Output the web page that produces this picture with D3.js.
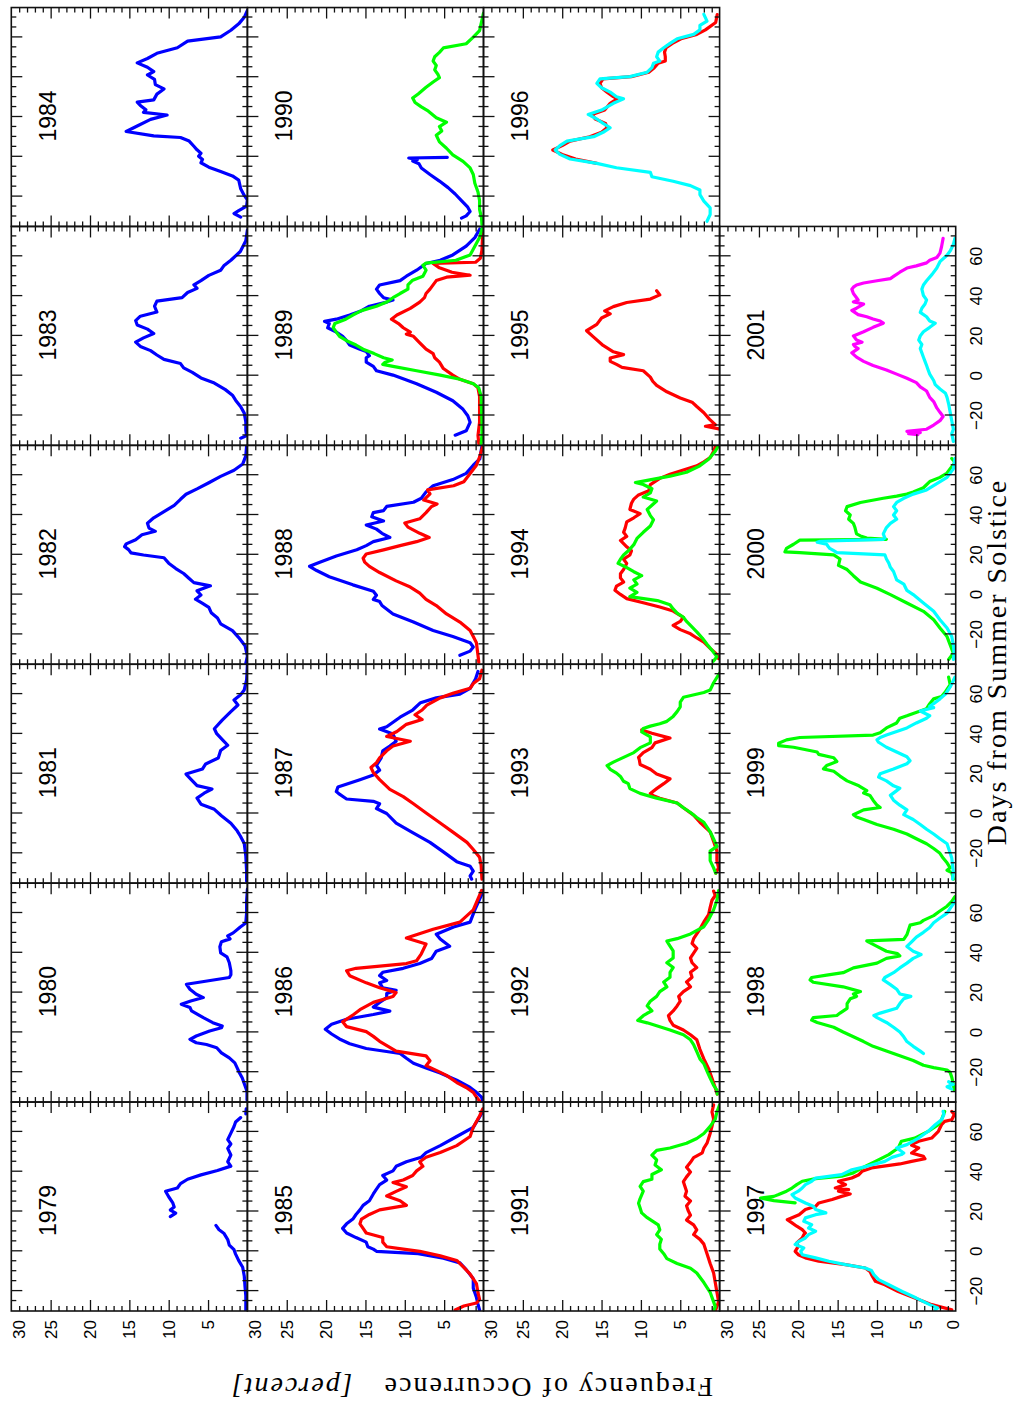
<!DOCTYPE html>
<html>
<head>
<meta charset="utf-8">
<script src="https://cdn.jsdelivr.net/npm/d3@7"></script>
<style>
  html, body { margin: 0; padding: 0; background: #ffffff; }
  svg { display: block; }
</style>
</head>
<body>
<svg id="chart" width="1014" height="1404"></svg>
<script>
// ---------------------------------------------------------------------------
// Seasonal frequency of occurrence, one panel per year, each series a survey.
// Every series is a list of [days from summer solstice, percent].
// ---------------------------------------------------------------------------
const years = d3.range(1979, 2002);
const dayTicks = [-20, 0, 20, 40, 60];
const dayTickLabels = ["\u221220", "0", "20", "40", "60"];
const freqTicks = [30, 25, 20, 15, 10, 5, 0];
const freqTickLabels = ["30", "25", "20", "15", "10", "5", "0"];

const blue1979a = [[71.6,0.15],[69,0.2]];
const blue1979b = [[67.2,0.85],[65,1.5],[62.7,1.7],[59.4,2.1],[56.1,2.5],[53.9,2.1],[51.7,2.5],[48.4,2.1],[45,2.5],[42.8,2.1],[40.6,3.8],[38.4,5.9],[36.2,7.6],[34,8.5],[31.8,8.9],[30.2,10.4],[27.4,10.0],[24.5,9.5],[22.3,9.3],[20.7,9.8],[19.2,9.1],[17.4,9.8]];
const blue1979c = [[13,4.0],[10.8,3.6],[9.1,3.0],[5.9,2.5],[3.1,2.3],[0.8,1.7],[-1.4,1.5],[-4.7,1.1],[-8,0.6],[-12.4,0.4],[-17.9,0.3],[-22.4,0.2],[-26.8,0.2],[-30,0.2]];

const blue1980 = [[72,0],[66,0.1],[60,0.1],[55,0.2],[53,0.9],[50,1.8],[48.5,2.5],[47,2.2],[45.5,3.3],[43,3.5],[40,3.4],[38,2.6],[35,2.3],[31,2.1],[29,2.1],[27.6,2.3],[24.2,7.75],[21.7,7.3],[19.2,6.5],[17.5,5.6],[15.8,7.2],[14.2,8.4],[12.5,7.3],[10.8,7.1],[7.4,5.6],[4.9,4.4],[3.2,3.2],[2.3,3.3],[0.7,4.8],[-1.8,6.5],[-3.5,7.3],[-5.2,6.5],[-6.1,5.2],[-7.7,3.9],[-10.3,3.3],[-12.8,2.3],[-15.3,1.6],[-17.8,1.3],[-20.4,1.0],[-22.9,0.65],[-26.3,0.35],[-29.6,0.05],[-34,0.05]];

const blue1981 = [[74.7,0],[67.1,0.1],[62.1,0.4],[59.5,0.9],[57,1.7],[54.5,1.2],[51.2,2.1],[46.9,3.2],[42.6,4.2],[40.1,3.9],[36.8,3.1],[34.3,2.5],[31.7,3.4],[27.9,3.7],[24.9,5.3],[22.4,5.7],[19.8,7.8],[17.3,7.2],[14,6.4],[12.3,4.5],[10.2,5.5],[7.7,6.4],[4.7,5.9],[2.1,4.2],[-1.1,3.3],[-4.9,2.1],[-8.7,1.3],[-11.3,0.9],[-15.1,0.4],[-21.4,0.2],[-29,0.1],[-34,0.1]];

const blue1982 = [[74.9,0.1],[69.7,0.2],[65.6,0.6],[62.5,1.7],[59.4,3.4],[56.2,4.9],[53.1,6.4],[50.4,7.8],[47.9,8.5],[44.8,9.3],[41.7,10.6],[38.6,11.9],[35.9,12.7],[33.4,12.5],[31.8,11.7],[30.1,13.4],[27.6,14.2],[25.5,15.4],[24.1,15.6],[22.6,15.1],[21,14.8],[19.9,13.2],[18.5,10.6],[15.8,10.0],[13.1,9.1],[10.6,8.1],[8.1,7.4],[6,6.8],[4.4,4.7],[1.9,6.4],[-0.2,5.9],[-2.3,6.6],[-4.4,5.7],[-6.4,4.9],[-9.1,4.6],[-11.8,3.8],[-14.7,3.4],[-18.1,1.9],[-21.6,1.1],[-25.7,0.3],[-30.9,0],[-34.5,0.2]];

const blue1983 = [[73.2,0],[67.8,0.2],[62.4,0.9],[58,2.1],[55.2,3.0],[53,3.4],[50.4,4.9],[47.8,5.9],[45.7,6.8],[43.9,6.4],[41.8,7.6],[39.2,8.3],[37.5,11.5],[34.9,11.8],[32,11.5],[29.9,13.6],[27.7,14.2],[25.5,14.0],[23.4,12.7],[21.2,11.9],[19,13.2],[16.9,14.2],[14.7,13.6],[12.6,12.3],[10.4,11.5],[8.2,10.6],[6.1,8.5],[3.9,8.1],[1.7,7.0],[-1.1,5.9],[-3.7,4.2],[-7,2.8],[-9.8,1.9],[-12.3,1.5],[-15.6,0.85],[-18.8,0.4],[-23.2,0.2],[-27.5,0.2],[-30.1,0.1],[-31.4,0.85]];

const blue1984 = [[73.5,0],[70.1,0.4],[66.8,1.1],[63.6,2.1],[60.3,3.4],[58.1,7.6],[54.8,8.9],[52,11.5],[49.4,12.7],[47.2,14.0],[45,12.7],[42.8,11.9],[41.1,12.7],[38.9,11.8],[36.3,11.7],[34.1,10.6],[31.5,11.5],[28.6,11.9],[27.5,14.0],[25.8,13.6],[23.6,12.9],[22.3,13.2],[21,10.2],[18.8,12.3],[15.5,14.0],[12.7,15.4],[10.5,11.9],[9.7,8.5],[7.9,7.4],[5.3,6.8],[3.5,6.4],[1.8,5.9],[0.3,6.2],[-1.3,5.7],[-3,5.9],[-5.2,4.9],[-7.4,3.4],[-9.6,1.9],[-11.7,1.1],[-16.1,0.85],[-19.4,0.4],[-21.6,0],[-24.8,0.1],[-27,1.1],[-28.5,1.7],[-30.3,0.85]];

const blue1985 = [[71.5,0],[69.2,0.25],[62.3,1.3],[57.7,3.4],[53.1,5.5],[49.6,7.3],[47.3,7.9],[45,9.8],[42.7,11.1],[40.4,11.5],[38.1,12.8],[35.8,12.3],[33.5,13.2],[31.2,13.6],[28.8,14.0],[25.4,14.5],[23.1,15.3],[20.8,15.7],[18.5,16.2],[16.2,16.6],[13.8,17.4],[11.5,17.9],[9.2,17.4],[6.9,16.2],[4.6,14.9],[2.3,14.7],[1.1,14.0],[0,13.6],[-1.2,8.3],[-3.5,5.1],[-5.8,3.0],[-9.2,2.2],[-13.8,1.3],[-18.5,1.3],[-23.1,0.9],[-26.5,0.7],[-29.5,0.5]];
const red1985 = [[71.5,0.1],[68,0.5],[62.3,1.3],[57.7,1.7],[53.1,3.4],[49.6,5.5],[47.3,7.3],[45,8.1],[42.7,7.7],[40.4,8.5],[38.1,9.0],[35.8,10.2],[34.6,11.5],[32.4,9.8],[30.1,11.1],[27.8,12.3],[25.4,10.6],[23.1,9.8],[20.8,13.2],[18.5,14.5],[16.2,15.5],[13.8,15.7],[11.5,15.3],[9.2,14.9],[6.9,12.8],[4.6,12.8],[2.3,12.3],[1.1,10.2],[0,8.1],[-2.3,5.5],[-4.6,3.4],[-8.1,2.5],[-11.5,1.7],[-16.2,0.9],[-20.8,0.7],[-24.2,0.5],[-26,0.9],[-27.5,2.5],[-29.5,3.6]];

const blue1986 = [[71.3,0],[61.6,1.1],[55.4,1.7],[53,3.8],[49.3,6.0],[46.9,5.5],[43.3,4.3],[40.8,6.0],[37.1,6.6],[34.6,8.1],[32.2,10.2],[30.2,12.8],[28.5,13.2],[26.1,12.3],[24.9,13.2],[22.4,12.8],[21.2,11.1],[19.5,12.3],[17.5,12.3],[15.1,13.2],[12.7,14.0],[10.7,11.9],[9,14.0],[6.6,17.4],[4.1,19.3],[1.6,20.1],[-0.8,19.3],[-3.3,18.3],[-5.7,17.0],[-8.1,14.9],[-10.6,10.6],[-13,9.8],[-15.5,8.9],[-17.9,7.3],[-20.4,5.5],[-24,3.4],[-27.7,1.7],[-30.1,0.9],[-32.5,0.25],[-34.5,0.1]];
const red1986 = [[71.3,0.25],[61.6,1.3],[55.4,3.0],[51.8,6.4],[47.4,9.8],[44.4,7.3],[39.5,7.9],[36,8.5],[34.6,9.8],[32.2,16.2],[31,17.4],[28.5,17.0],[24.9,14.9],[22.4,13.2],[20,11.1],[18,11.5],[15.1,14.0],[11.4,15.7],[9,16.5],[5.3,17.9],[2.9,17.4],[0.4,14.9],[-2,14.0],[-4.5,13.2],[-9.4,11.1],[-11.8,7.3],[-14.2,6.8],[-16.7,7.3],[-19.1,6.0],[-21.6,4.7],[-25.2,3.4],[-27.7,2.2],[-30.1,1.3],[-32.5,0.9],[-34.5,0.5]];

const blue1987 = [[71.4,0.7],[67.7,1.0],[62.9,1.7],[60,3.0],[58.1,6.0],[55.7,8.0],[52,9.0],[48.4,10.6],[43.6,12.3],[42.4,13.2],[39.9,11.5],[36.3,11.1],[33.9,11.9],[31.5,12.8],[27.9,13.0],[24.2,13.6],[21.8,13.2],[19.4,14.0],[17,15.7],[13.3,18.5],[11,18.7],[9.7,18.3],[7.3,17.4],[6.1,14.0],[4.9,13.2],[2.5,13.6],[0,12.3],[-4.8,11.1],[-9.6,9.0],[-14.5,6.8],[-19.3,5.1],[-24.2,3.4],[-26.5,1.7],[-29,1.3],[-31.4,1.7],[-33,1.5]];
const red1987 = [[72,0.2],[67.7,0.5],[65.3,1.3],[62.9,1.7],[60.5,3.8],[58.1,5.5],[54.5,7.2],[52,7.8],[49.6,8.7],[47.2,7.8],[44.8,9.8],[42.4,10.6],[41.2,11.0],[38.7,12.3],[36.3,9.3],[33.9,11.5],[31.5,12.3],[27.9,13.2],[25.5,13.6],[23.1,14.3],[20.6,14.0],[17,13.2],[12.1,11.9],[8.5,10.2],[4.9,8.9],[0,7.2],[-4.8,5.5],[-9.6,3.8],[-14.5,2.1],[-18.1,1.3],[-22,0.5],[-26,0.3],[-33,0.2]];

const blue1988 = [[74.5,0.2],[68.2,0.47],[65,1.3],[60.9,2.2],[57.8,3.9],[54.7,6.4],[51.6,7.3],[48.4,7.9],[46.4,8.9],[44.3,12.3],[42.2,12.7],[41.2,14.0],[39.1,14.2],[37,12.7],[35,14.9],[32.9,13.6],[30.8,12.9],[28.7,11.9],[26.6,14.0],[24.6,14.9],[22.5,16.1],[19.4,18.7],[16.3,20.8],[14.2,22.1],[12.1,21.2],[9,19.6],[4.9,16.6],[1.7,14.0],[-0.3,13.6],[-2.4,14.0],[-3.5,13.2],[-5.5,12.9],[-9.7,11.5],[-13.8,8.9],[-18,6.4],[-21.1,3.9],[-24.2,1.7],[-26.3,1.3],[-28.4,1.7],[-30.5,3.0]];
const red1988 = [[74.5,0.1],[69.1,0.5],[65,0.9],[60.9,1.7],[56.7,2.5],[54.7,3.8],[52.6,7.1],[50.6,6.8],[47.5,7.6],[45.5,5.9],[44.3,6.6],[41.2,7.3],[38.1,8.1],[36,10.0],[33.9,9.6],[30.8,8.1],[28.7,6.9],[26.6,8.5],[24.6,10.6],[22.5,12.7],[20.4,14.9],[18.3,15.3],[16.3,15.1],[14.2,14.5],[11.1,13.2],[6.9,11.1],[3.8,9.3],[0.7,8.1],[-2.4,7.3],[-5.5,6.0],[-9.7,4.7],[-13.8,3.0],[-18,1.7],[-21.1,1.3],[-24.2,0.9],[-30.5,0.7],[-34,0.6]];

const blue1989 = [[73.7,0.47],[69.4,1.1],[65.1,2.2],[60.7,3.9],[58,5.5],[56.4,7.3],[53,8.5],[50,9.8],[47.8,10.6],[45.6,13.2],[43.5,13.6],[41.3,13.2],[39.2,12.7],[38,11.5],[37,12.3],[34.9,14.5],[32.7,15.5],[30.5,17.0],[28.4,18.7],[27.3,20.2],[26.2,19.6],[24.1,19.8],[21.9,18.7],[19.8,17.9],[17.6,17.4],[15.4,17.0],[13.3,15.7],[12.2,14.9],[10.1,14.5],[9,14.9],[6.8,14.9],[4.7,14.0],[2.5,13.6],[0.3,11.5],[-4,8.5],[-8.3,6.0],[-12.6,3.9],[-16.9,2.6],[-20.1,2.0],[-23.4,1.7],[-27.7,2.2],[-29.9,3.6]];
const red1989 = [[72,0.1],[63,0.2],[59,0.4],[57,1.0],[56.4,6.4],[54.2,5.6],[52,4.0],[50.5,1.7],[49.5,4.7],[47.8,6.0],[43.5,6.8],[41.3,7.3],[39.2,7.5],[37,8.1],[33.8,9.3],[30.5,11.0],[28.4,11.7],[26.2,10.8],[24.1,10.2],[21.9,9.3],[20.9,9.8],[19.8,8.9],[16.5,8.1],[13.3,7.3],[11.1,6.4],[9,6.2],[6.8,5.6],[3.6,5.1],[0.3,3.9],[-1.8,3.0],[-4,1.3],[-6.1,0.7],[-10.4,0.5],[-16.9,0.5],[-23.4,0.5],[-30,0.7],[-34,0.6]];
const green1989 = [[75,0.1],[69.4,0.5],[65.1,1.1],[60.7,1.7],[58,3.5],[56.6,7.3],[55.5,7.7],[53,7.3],[50,7.7],[48,9.0],[45.6,9.6],[43.5,9.6],[41.3,10.6],[39.2,11.5],[37,12.3],[34.9,13.6],[32.7,15.5],[30.5,16.6],[28.4,17.5],[26.2,18.9],[24.1,19.1],[21.9,18.7],[19.8,18.3],[17.6,17.4],[15.4,16.2],[13.3,15.3],[11.1,13.9],[9,12.7],[7.9,11.6],[6.8,12.5],[5.7,12.8],[4.7,11.5],[2.5,8.5],[0.3,5.5],[-1.8,3.0],[-4,1.3],[-6.1,0.6],[-10.4,0.3],[-16.9,0.25],[-23.4,0.2],[-30,0.2],[-34,0.3]];

const blue1990 = [[-0.3,4.6],[-0.6,9.5],[-1.4,8.4],[-2.1,9.0],[-3.5,8.2],[-5.6,7.9],[-8.9,6.8],[-12.2,5.6],[-15.5,4.5],[-18.7,3.6],[-22,2.8],[-25.3,2.0],[-27.5,1.7],[-29.7,2.2],[-30.8,2.8]];
const green1990 = [[72.2,0],[67.8,0.25],[63.4,0.5],[60.1,1.3],[56.8,2.2],[54.7,5.1],[52.5,5.6],[50.3,6.2],[48.1,6.4],[45.9,6.0],[43.7,6.2],[41.5,5.8],[39.8,5.6],[37.6,6.4],[34.9,7.3],[31.6,8.3],[29.5,9.0],[27.3,8.7],[25.1,7.9],[22.9,7.0],[19.6,6.0],[17.4,4.7],[15.2,5.6],[13,5.3],[10.8,6.0],[7.5,5.6],[4.3,4.7],[1,3.9],[-2.3,2.6],[-5.6,1.7],[-8.9,1.3],[-13.3,1.1],[-17.7,0.7],[-22,0.5],[-26.4,0.5],[-30.8,0.25],[-34,0.2]];

const red1991 = [[73.6,0.76],[70,0.97],[66.4,0.76],[62.8,0.97],[59.2,1.2],[54.3,1.6],[51.9,2.0],[49.5,2.2],[47.1,3.3],[44.7,3.7],[42.2,4.2],[39.8,3.7],[37.4,4.2],[35,4.6],[32.6,4.4],[30.2,4.2],[27.7,4.4],[25.3,3.7],[22.9,4.2],[20.5,4.0],[18.1,3.7],[15.7,4.2],[13.3,3.3],[10.8,2.9],[8.4,3.3],[6,2.5],[3.6,2.0],[1.2,1.8],[-1.2,1.6],[-6.1,1.2],[-10.9,0.76],[-15.7,0.55],[-20.6,0.34],[-25.4,0.13],[-30,0.55]];
const green1991 = [[73.6,0],[70,0.34],[66.4,0.55],[62.8,1.2],[59.2,2.0],[56.7,2.9],[54.3,4.2],[51.9,6.3],[50.7,8.0],[48.3,8.6],[45.9,8.0],[43.4,8.2],[41,7.4],[38.6,8.6],[36.2,8.6],[35,9.7],[32.6,10.1],[30.2,9.7],[26.5,10.1],[24.1,10.3],[21.7,10.1],[19.3,9.9],[16.9,9.2],[13.3,7.8],[10.8,7.6],[8.4,8.0],[6,7.4],[3.6,7.6],[1.2,7.6],[-1.2,7.1],[-3.7,6.7],[-6.1,5.4],[-8.5,3.7],[-10.9,2.9],[-15.7,2.0],[-20.6,1.2],[-25.4,0.76],[-27.8,0.55],[-30,0.76]];

const red1992 = [[71,0.76],[68.8,0.55],[66.4,0.97],[62.8,1.2],[59.2,1.4],[55.5,2.0],[51.9,2.5],[47.1,3.3],[44.7,3.5],[42.2,2.9],[39.8,3.3],[37.4,3.7],[35,3.5],[32.6,2.9],[30.2,3.7],[27.7,3.5],[25.3,4.2],[22.9,3.7],[20.5,4.6],[18.1,5.2],[15.7,5.0],[13.3,5.4],[10.8,5.9],[8.4,6.5],[6,6.3],[3.6,5.9],[1.2,4.6],[-1.2,3.7],[-3.7,2.9],[-8.5,2.5],[-13.3,2.0],[-18.2,1.4],[-23,0.97],[-27.8,0.55],[-31,0.3]];
const green1992 = [[71.2,0.13],[66.4,0.34],[61.6,0.76],[56.7,1.4],[53.1,2.0],[49.5,3.7],[47.1,5.4],[45.9,6.7],[43.4,6.3],[41,5.9],[37.4,5.9],[35,6.7],[32.6,5.9],[30.2,6.3],[27.7,6.3],[25.3,7.1],[22.9,6.7],[20.5,7.6],[18.1,8.0],[15.7,8.8],[13.3,9.2],[10.8,8.6],[9.6,9.2],[8.4,9.7],[6,10.4],[4.8,9.2],[1.2,6.3],[-1.2,4.6],[-3.7,3.7],[-6.1,3.3],[-9.7,2.9],[-13.3,2.5],[-15.7,2.0],[-19.4,1.6],[-23,1.2],[-26.6,0.76],[-29,0.34],[-31,0.3]];

const red1993 = [[42,9.9],[40.3,8.6],[37.9,6.3],[35.5,8.2],[33.1,8.6],[30.6,9.7],[28.2,10.3],[27,10.2],[24.6,10.1],[22.2,8.8],[19.8,8.0],[17.4,6.3],[15,7.1],[12.5,8.0],[10.1,8.8],[8.9,8.4],[7.7,7.6],[5.3,5.4],[2.9,4.6],[-0.8,3.3],[-4.4,2.5],[-9.2,1.2],[-14,0.76],[-18.9,0.34],[-23.7,0.34],[-27.3,0.13],[-30,0.5]];
const green1993 = [[70.5,0],[65.7,0.76],[62,1.2],[60.8,2.0],[58.4,4.6],[56,5.0],[53.6,5.0],[51.2,5.4],[48.8,5.9],[46.3,6.7],[45.1,7.6],[43.9,8.8],[42.7,9.7],[41,9.9],[38.5,8.8],[35.5,8.8],[33.1,10.1],[30.6,10.9],[28.2,12.2],[25.8,13.5],[24.1,14.3],[22.2,13.9],[20.3,13.1],[18.6,12.6],[16.2,12.2],[15,11.6],[12.5,11.4],[10.1,10.1],[7.7,8.0],[5.3,5.4],[2.9,4.6],[0.5,3.7],[-2,2.9],[-4.4,2.0],[-6.8,1.6],[-9.2,1.2],[-12.8,0.76],[-16.5,0.34],[-18.9,1.2],[-23.7,1.2],[-27.3,0.76],[-30,0.5]];

const red1994 = [[75,0.5],[72,0.76],[68.8,1.2],[66.75,2.0],[64.7,2.9],[62.6,4.6],[60.5,6.3],[58.4,7.6],[55.3,8.8],[52.2,9.0],[50.1,10.3],[48,10.9],[45.9,11.2],[42.8,11.4],[40.7,10.1],[38.6,10.9],[36.5,11.8],[33.4,12.0],[31.3,12.2],[29.25,11.8],[27.2,12.6],[24,11.8],[22,11.2],[19.9,11.4],[17.8,12.2],[15.7,11.8],[12.6,12.2],[10.5,12.6],[8.4,12.6],[6.3,12.2],[4.25,13.1],[2.2,13.3],[0.1,12.6],[-2,11.8],[-4.1,9.7],[-6.2,7.6],[-8.25,5.9],[-11.4,4.6],[-13.5,5.0],[-15.5,5.9],[-17.6,5.0],[-19.7,3.7],[-21.8,2.9],[-23.9,2.0],[-27,1.2],[-30.1,0.34],[-32.2,0.13]];
const green1994 = [[75,0.13],[72,0.55],[68,1.4],[64.7,2.5],[61.5,4.2],[59.5,6.3],[57.4,9.2],[56.3,10.7],[55.3,9.7],[53.2,8.6],[51.1,8.8],[49,9.7],[47,8.0],[44.9,8.6],[42.8,9.2],[39.7,8.8],[37.6,8.4],[34.5,8.8],[31.3,9.7],[28.2,10.5],[25.1,10.9],[22,11.6],[19.9,12.2],[17.8,12.6],[15.7,12.9],[13.6,11.8],[11.5,10.9],[9.5,9.9],[7.4,10.9],[5.3,10.5],[3.2,11.4],[1.1,10.5],[-1,11.4],[-3,7.9],[-5.1,6.3],[-7.2,5.9],[-9.3,5.4],[-11.4,4.6],[-13.5,4.2],[-15.5,3.7],[-18.7,2.9],[-21.8,2.2],[-24.9,1.6],[-28,0.97],[-31.2,0.34],[-33.5,0.8]];

const red1995 = [[42.7,8.0],[40.6,7.6],[38.5,8.8],[36.8,11.8],[34.7,13.5],[32.6,14.6],[31.1,13.9],[29,15.0],[25.8,15.6],[22.6,16.9],[19.4,16.0],[15.2,14.8],[12,13.5],[10.6,12.2],[8.9,13.9],[7.2,13.9],[5.7,13.1],[4.2,12.4],[2.5,9.7],[-0.7,8.8],[-2.8,8.5],[-4.9,8.0],[-8.1,6.7],[-11.2,5.0],[-13.3,3.5],[-15.5,2.9],[-18.6,2.0],[-21.8,1.3],[-24.6,0.55],[-25.4,1.8],[-26.7,0.1]];

const red1996 = [[71.5,0.3],[67.5,0.5],[63.8,1.8],[61.5,2.9],[59.3,4.9],[57,6.0],[54.8,6.8],[52.6,7.0],[50.3,6.9],[48.1,6.9],[47,7.8],[44.8,8.3],[42.5,9.0],[40.3,11.2],[39.2,14.8],[36.9,15.2],[34.7,15.0],[32.5,14.3],[30.2,13.5],[29.1,13.0],[26.9,13.9],[23.5,14.6],[21.3,16.2],[19,15.8],[16.8,14.5],[14.6,14.3],[12.3,15.0],[10.1,16.5],[7.9,19.0],[5.6,20.0],[3.4,21.2],[1.2,20.0],[-1.1,18.3],[-3.3,15.6]];
const cyan1996 = [[71.6,2.0],[68.2,1.6],[66,2.5],[63.8,2.5],[61.5,3.3],[59.3,5.4],[57,6.3],[54.8,7.1],[52.6,7.8],[50.3,8.0],[48.1,7.6],[47,8.4],[44.8,8.6],[42.5,9.2],[40.3,11.4],[39.2,15.2],[36.9,15.6],[34.7,15.0],[32.5,13.9],[30.2,13.1],[29.1,12.2],[26.9,13.5],[23.5,15.0],[21.3,16.7],[19,15.6],[16.8,14.8],[14.6,13.9],[12.3,14.8],[10.1,16.0],[7.9,19.4],[5.6,20.3],[3.4,20.9],[1.2,20.3],[-1.1,19.0],[-3.3,15.6],[-5.5,13.1],[-7.8,8.8],[-10,8.6],[-12.3,5.9],[-14.5,3.7],[-16.7,2.5],[-19,2.5],[-22.3,2.0],[-25.7,1.2],[-29,1.2],[-32.4,1.6]];

const red1997 = [[70.3,0.5],[68.7,0.17],[66.1,0.5],[65.3,1.4],[63.6,1.8],[60.3,2.2],[56.9,3.05],[55.3,4.7],[54.4,5.2],[53.3,5.6],[51.9,4.7],[49.4,5.6],[47.7,4.1],[46.5,3.9],[45.2,5.6],[43.9,7.1],[41.9,10.7],[40.2,11.9],[38.5,12.3],[36.8,13.2],[35.2,14.9],[33.5,14.0],[31.8,15.3],[31,13.6],[30.2,14.9],[28.8,13.4],[27.6,14.5],[26,15.7],[24.3,17.4],[22.6,17.8],[21,19.1],[18.4,19.9],[15.9,21.4],[14.3,20.8],[12.6,20.2],[10.9,19.5],[9.2,19.1],[8.4,19.3],[6.7,19.5],[4.2,20.2],[2.5,20.0],[0,20.4],[-1.7,20.0],[-3.3,19.1],[-5,17.4],[-6.7,14.0],[-8.4,11.5],[-10.1,10.9],[-11.7,10.7],[-15.1,10.2],[-16.8,9.0],[-20.2,7.3],[-23.5,5.2],[-26.8,3.05],[-29.4,0.5]];
const green1997 = [[70.3,1.4],[66.1,1.8],[63.6,2.2],[60.3,3.5],[56.9,5.2],[55.3,6.9],[51.9,7.3],[48.6,8.5],[45.2,10.2],[41.9,11.9],[39.4,13.0],[37.7,14.5],[36.5,17.8],[35.2,19.5],[33.5,20.2],[31.8,20.8],[30.2,21.5],[28.5,22.5],[27.6,23.1],[26.8,24.8],[25.5,23.1],[24.3,20.4]];
const cyan1997 = [[70.3,1.6],[68.7,1.5],[66.1,1.8],[63.6,2.6],[60.3,3.5],[56.9,4.7],[53.6,6.2],[51.9,7.5],[49.4,6.6],[48.6,6.9],[47.2,8.1],[45.2,9.0],[42.7,11.3],[41,13.2],[38.5,14.5],[36.8,17.8],[35.2,18.3],[33.5,19.1],[31.8,19.5],[30.2,20.0],[28.5,20.8],[26.8,20.4],[24.3,19.1],[22.6,18.1],[21,17.8],[19.3,16.5],[18.4,17.8],[16.8,19.1],[15.1,19.3],[13.4,18.3],[11.7,18.7],[10.1,17.8],[8.4,18.7],[6.7,19.1],[5,19.9],[3.4,20.4],[1.7,19.3],[0,19.7],[-1.7,19.5],[-3.3,17.8],[-5,16.1],[-6.7,14.0],[-8.4,11.5],[-9.7,10.7],[-11.7,10.4],[-14.2,9.8],[-16.8,8.5],[-20.2,6.8],[-23.5,5.0],[-26.8,3.3],[-28.5,2.3],[-29.4,2.6]];

const green1998 = [[68.2,0.1],[65.8,0.5],[63.4,1.1],[61,2.0],[58.7,2.8],[56.3,4.1],[55.1,4.5],[53.9,5.8],[51.5,6.0],[49.1,6.2],[46.7,6.6],[46,11.3],[45.5,11.1],[43.2,10.0],[40.8,8.8],[39.6,7.4],[38.4,7.1],[37.2,8.8],[34.8,10.0],[32.4,13.0],[30,14.3],[28.8,16.4],[27.6,18.3],[26.4,18.5],[25.2,18.1],[22.9,14.3],[20.5,12.1],[19.3,13.0],[18.1,12.6],[16.9,13.4],[14.5,13.8],[12.1,13.8],[9.7,14.7],[8.5,15.1],[7.4,18.1],[6.2,18.3],[5,17.6],[2.6,15.5],[0.2,14.3],[-2.2,13.0],[-4.6,11.7],[-7,10.5],[-9.4,8.8],[-11.7,7.1],[-14.1,5.4],[-16.5,4.1],[-17.7,2.8],[-18.9,1.1],[-20.1,0.7],[-22.5,0.5],[-26.1,0.3],[-29,0.2]];
const cyan1998a = [[65.8,0.1],[62.3,0.7],[59.9,1.1],[57.5,2.0],[55.1,2.8],[52.7,3.3],[50.3,4.1],[47.9,5.0],[45.5,5.6],[43.2,6.2],[40.8,5.4],[39.1,4.4],[37.2,5.4],[34.8,6.2],[32.4,7.1],[30,7.9],[27.6,9.0],[26.4,9.2],[24,8.3],[21.7,7.5],[19.3,7.1],[18.1,5.7],[16.9,6.6],[14.5,7.1],[12.1,7.5],[9.7,9.6],[8.5,10.4],[7.4,10.0],[5,8.8],[2.6,7.9],[0.2,7.1],[-2.2,6.6],[-4.6,6.2],[-7,5.4],[-9.4,4.5],[-10.6,4.1]];
const cyan1998b = [[-24.8,0.9],[-26.1,0.3],[-27.3,1.1],[-28.5,0.5]];

const green1999 = [[68.5,0.9],[64.8,0.7],[61.2,1.3],[58.8,1.8],[57.6,2.8],[55.2,3.3],[52.7,3.7],[51.5,4.5],[50.3,5.4],[49.1,6.2],[47.9,7.1],[45.5,7.5],[43,8.8],[40.6,9.6],[39.4,10.5],[38.2,19.8],[37,21.5],[35.3,22.5],[34.1,22.5],[33.3,20.6],[30.9,17.6],[29.7,17.4],[28,15.5],[26.1,15.1],[24.1,16.4],[22.4,16.8],[21.2,15.5],[18.8,14.7],[16.4,13.8],[13.9,12.3],[11.5,11.3],[10.3,11.7],[9.1,10.9],[6.7,10.5],[4.2,10.0],[3,9.6],[1.8,11.7],[-0.6,13.0],[-1.8,12.6],[-3,11.7],[-5.5,10.0],[-7.9,7.9],[-10.3,6.2],[-12.7,5.0],[-15.2,3.7],[-17.6,2.8],[-20,2.0],[-22.4,1.6],[-24.8,1.1],[-27.3,0.7],[-28.5,1.1],[-29.7,0.5],[-33,0.3]];
const cyan1999 = [[68.5,0.1],[63.6,0.7],[60,1.3],[57.6,2.0],[55.2,2.8],[53.9,3.3],[53.2,2.8],[51.5,4.5],[49.1,3.3],[47.9,3.7],[45.5,5.0],[43,6.2],[39.4,8.8],[38.2,9.6],[37,10.0],[35.8,9.8],[33.3,8.8],[30.9,7.5],[28.5,6.2],[26.5,5.8],[25,6.2],[22.4,7.9],[20,9.6],[18.3,9.8],[16.4,8.8],[13.9,7.9],[12.7,7.1],[11.5,7.5],[9.1,8.3],[6.7,7.9],[4.2,7.1],[1.8,6.2],[-0.6,6.6],[-3,5.4],[-5.5,4.5],[-7.9,3.7],[-10.3,2.8],[-12.7,2.0],[-15.2,1.1],[-17.6,0.9],[-20,0.7],[-22.4,0.5],[-26,0.4],[-29.7,0.3],[-33,0.4]];

const green2000 = [[68.4,0.5],[66.5,0.1],[65.3,0.3],[63.2,0.7],[61.1,1.1],[58.9,2.0],[56.8,3.3],[53.7,4.1],[51.6,5.4],[50.5,6.2],[49.5,7.5],[48.4,9.2],[46.3,12.1],[44.2,13.8],[42.1,14.0],[40,13.4],[37.9,13.6],[35.8,13.0],[33.7,12.8],[30.5,12.6],[29.5,12.1],[28.4,11.3],[27.8,8.8],[27.4,19.8],[25.3,20.6],[23.2,21.5],[21.5,21.7],[21.1,19.8],[20,15.5],[17.9,14.7],[14.7,14.9],[12.6,13.8],[9.5,13.0],[6.3,12.1],[3.2,10.0],[0,8.3],[-4.2,6.2],[-8.4,4.1],[-12.6,2.8],[-16.8,2.0],[-21.1,1.1],[-25.3,0.7],[-29.5,0.3],[-32.6,0.9]];
const cyan2000 = [[68.4,0.1],[63.2,0.3],[58.9,1.1],[55.8,2.4],[52.6,3.7],[50.5,5.4],[48.4,6.6],[46.3,7.5],[44.2,7.9],[42.1,7.5],[40,7.9],[37.9,7.5],[35.8,8.3],[33.7,8.8],[30.5,9.2],[28.4,9.0],[27.8,9.2],[26.8,17.2],[26.3,17.6],[25.3,16.4],[24.2,16.2],[23.2,16.0],[22.1,15.5],[21.1,15.1],[20,9.0],[17.9,8.8],[15.8,8.5],[13.7,8.3],[11.6,7.9],[9.5,7.7],[7.4,7.5],[5.3,6.6],[2.1,6.2],[0,5.4],[-4.2,4.1],[-8.4,2.8],[-12.6,2.0],[-16.8,1.1],[-21.1,0.5],[-25.3,0.3],[-29.5,0.2],[-32.6,0.3]];

const cyan2001 = [[69,0.1],[65.9,0.3],[62.7,0.7],[60.5,1.1],[57.3,2.0],[54.1,2.4],[50.9,3.0],[47.7,3.7],[45.6,4.1],[43.5,4.3],[40.3,4.1],[38.1,3.7],[36,3.9],[33.9,4.3],[31.8,4.5],[29.6,3.7],[27.5,3.3],[26.4,2.6],[24.3,3.3],[22.1,4.1],[20,4.5],[17.9,4.7],[15.7,4.3],[13.6,4.5],[11.5,4.3],[9.3,4.1],[7.2,3.9],[5.1,3.7],[2.9,3.5],[0.8,3.3],[-2.4,2.8],[-4.5,2.6],[-6.7,2.0],[-8.8,1.3],[-10.9,1.1],[-14.1,0.9],[-18.4,0.7],[-22.6,0.5],[-26.9,0.3],[-29.1,0.5],[-33,0.3]];
const magenta2001 = [[69,1.6],[64.8,1.8],[61.6,2.0],[59.4,2.4],[58,3.3],[56.7,3.7],[55.2,5.0],[54.1,6.2],[52,7.1],[49.9,7.9],[48.8,8.3],[47.7,10.0],[46.6,11.7],[45.6,12.6],[44.5,13.0],[43.5,13.2],[41.3,13.0],[39.2,12.6],[38.1,12.4],[37.1,13.0],[36,11.7],[33.9,12.6],[32.8,13.2],[30.7,12.4],[29.6,11.3],[28.5,10.5],[27.5,9.6],[26.4,9.2],[24.3,10.5],[22.1,11.7],[20,13.0],[17.9,12.6],[16.8,11.9],[15.7,13.0],[14.7,12.8],[13.6,12.4],[11.5,13.2],[9.3,12.6],[7.2,11.7],[5.1,10.5],[2.9,8.8],[0.8,7.5],[-1.3,6.2],[-3.5,5.0],[-5.6,4.5],[-7.7,3.7],[-10.9,3.3],[-13,2.8],[-16.2,2.4],[-18.4,2.0],[-20.5,1.6],[-22.6,2.0],[-24.8,2.8],[-26.9,3.7],[-28,6.2],[-28.6,4.5],[-29.1,6.0],[-29.6,4.8]];

// Series drawn in each panel, in drawing order.
const panelSeries = {
  1979: [["blue", blue1979a], ["blue", blue1979b], ["blue", blue1979c]],
  1980: [["blue", blue1980]],
  1981: [["blue", blue1981]],
  1982: [["blue", blue1982]],
  1983: [["blue", blue1983]],
  1984: [["blue", blue1984]],
  1985: [["blue", blue1985], ["red", red1985]],
  1986: [["blue", blue1986], ["red", red1986]],
  1987: [["blue", blue1987], ["red", red1987]],
  1988: [["blue", blue1988], ["red", red1988]],
  1989: [["blue", blue1989], ["red", red1989], ["green", green1989]],
  1990: [["blue", blue1990], ["green", green1990]],
  1991: [["red", red1991], ["green", green1991]],
  1992: [["red", red1992], ["green", green1992]],
  1993: [["red", red1993], ["green", green1993]],
  1994: [["red", red1994], ["green", green1994]],
  1995: [["red", red1995]],
  1996: [["red", red1996], ["cyan", cyan1996]],
  1997: [["red", red1997], ["green", green1997], ["cyan", cyan1997]],
  1998: [["green", green1998], ["cyan", cyan1998a], ["cyan", cyan1998b]],
  1999: [["green", green1999], ["cyan", cyan1999]],
  2000: [["green", green2000], ["cyan", cyan2000]],
  2001: [["cyan", cyan2001], ["magenta", magenta2001]]
};

const seriesColor = {
  blue: "#0000ff", red: "#ff0000", green: "#00ff00",
  cyan: "#00ffff", magenta: "#ff00ff"
};

// ---------------------------------------------------------------------------
// Layout. The figure is composed in a landscape frame (days across, percent
// up) and the whole frame is turned a quarter turn to fit the tall page.
// ---------------------------------------------------------------------------
const PAGE_W = 1014, PAGE_H = 1404;
const dayPx = 1.99;            // pixels per day
const firstX = 93;             // left edge of the first column of panels
const rowTop = 11.3, rowH = 236.1;
const nCols = 6;
const colDomain = c => (c === 0 ? [-30, 75] : [-35, 75]);
const colX = [firstX];
for (let c = 0; c < nCols; c++) {
  const [d0, d1] = colDomain(c);
  colX.push(colX[c] + (d1 - d0) * dayPx);
}

const svg = d3.select("#chart");
svg.append("rect").attr("width", PAGE_W).attr("height", PAGE_H).attr("fill", "#fff");
const land = svg.append("g")
  .attr("transform", `translate(0,${PAGE_H}) rotate(-90)`);
const defs = svg.append("defs");

const MAJOR = 11, MINOR = 5;
const sans = "'Liberation Sans', Arial, Helvetica, sans-serif";
const serif = "'Liberation Serif', 'Times New Roman', serif";
const tickFont = 17;

function tickSet(g, axisFn, scale, values, len, transform) {
  g.append("g")
    .attr("transform", transform)
    .call(axisFn(scale).tickValues(values).tickSize(-len).tickSizeOuter(0).tickFormat(""))
    .call(a => a.select(".domain").remove())
    .call(a => a.selectAll("line").attr("stroke", "#111").attr("stroke-width", 1.3));
}

const line = (x, y) => d3.line().x(d => x(d[0])).y(d => y(d[1]));

years.forEach((yr, idx) => {
  const r = Math.floor(idx / nCols), c = idx % nCols;
  const [d0, d1] = colDomain(c);
  const x = d3.scaleLinear().domain([d0, d1]).range([colX[c], colX[c + 1]]);
  const y = d3.scaleLinear().domain([0, 30]).range([rowTop + (r + 1) * rowH, rowTop + r * rowH]);
  const [xl, xr] = x.range();
  const [yb, yt] = y.range();
  const g = land.append("g").attr("class", "panel");

  const clipId = "clip" + yr;
  defs.append("clipPath").attr("id", clipId)
    .append("rect").attr("x", xl).attr("y", yt).attr("width", xr - xl).attr("height", yb - yt);

  // data
  const lines = g.append("g").attr("clip-path", `url(#${clipId})`);
  panelSeries[yr].forEach(([name, pts]) => {
    lines.append("path")
      .attr("d", line(x, y)(pts))
      .attr("fill", "none")
      .attr("stroke", seriesColor[name])
      .attr("stroke-width", 3.2)
      .attr("stroke-linejoin", "round")
      .attr("stroke-linecap", "round");
  });

  // ticks on all four sides, pointing inward
  const dMinor = d3.range(-30, 75, 5).filter(d => d > d0 && d < d1 && d % 20 !== 0);
  const vMajor = [5, 10, 15, 20, 25];
  const vMinor = d3.range(1, 30).filter(v => v % 5 !== 0);
  tickSet(g, d3.axisBottom, x, dayTicks, MAJOR, `translate(0,${yb})`);
  tickSet(g, d3.axisBottom, x, dMinor, MINOR, `translate(0,${yb})`);
  tickSet(g, d3.axisTop, x, dayTicks, MAJOR, `translate(0,${yt})`);
  tickSet(g, d3.axisTop, x, dMinor, MINOR, `translate(0,${yt})`);
  tickSet(g, d3.axisLeft, y, vMajor, MAJOR, `translate(${xl},0)`);
  tickSet(g, d3.axisLeft, y, vMinor, MINOR, `translate(${xl},0)`);
  tickSet(g, d3.axisRight, y, vMajor, MAJOR, `translate(${xr},0)`);
  tickSet(g, d3.axisRight, y, vMinor, MINOR, `translate(${xr},0)`);

  g.append("rect")
    .attr("x", xl).attr("y", yt).attr("width", xr - xl).attr("height", yb - yt)
    .attr("fill", "none").attr("stroke", "#111").attr("stroke-width", 1.6);

  // year label
  const fsYear = 23;
  g.append("text")
    .attr("x", x(20.5))
    .attr("y", y(25.35) + 0.36 * fsYear)
    .attr("text-anchor", "middle")
    .attr("font-family", sans)
    .attr("font-size", fsYear)
    .attr("fill", "#000")
    .text(yr);

  // percent labels along the first column
  if (c === 0) {
    freqTicks.forEach((v, i) => {
      if (v === 0 && r !== 3) return;
      const shift = v === 30 ? 7.5 : (v === 0 ? -2.7 : 0);
      g.append("text")
        .attr("x", xl - 9)
        .attr("y", y(v) + shift + 0.36 * tickFont)
        .attr("text-anchor", "end")
        .attr("font-family", sans)
        .attr("font-size", tickFont)
        .attr("fill", "#000")
        .text(freqTickLabels[i]);
    });
  }

  // day labels under the last row of panels
  if (r === 3) {
    dayTicks.forEach((d, i) => {
      g.append("text")
        .attr("x", x(d))
        .attr("y", yb + 26.5)
        .attr("text-anchor", "middle")
        .attr("font-family", sans)
        .attr("font-size", tickFont)
        .attr("fill", "#000")
        .text(dayTickLabels[i]);
    });
  }
});

// axis titles
land.append("text")
  .attr("x", 742)
  .attr("y", 1006)
  .attr("text-anchor", "middle")
  .attr("font-family", serif)
  .attr("font-size", 28)
  .attr("letter-spacing", 2)
  .attr("fill", "#000")
  .text("Days from Summer Solstice");

const yTitle = land.append("text")
  .attr("transform", "translate(26,471.5) rotate(-90)")
  .attr("text-anchor", "middle")
  .attr("font-family", serif)
  .attr("font-size", 28)
  .attr("letter-spacing", 2)
  .attr("fill", "#000");
yTitle.append("tspan").text("Frequency of Occurrence");
yTitle.append("tspan").attr("dx", 30).attr("font-style", "italic").text("[percent]");
</script>
</body>
</html>
